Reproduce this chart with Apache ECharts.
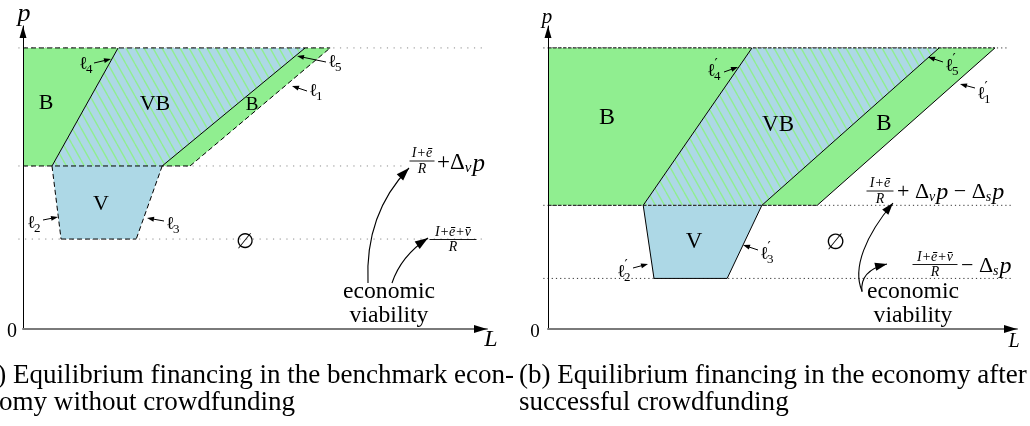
<!DOCTYPE html>
<html>
<head>
<meta charset="utf-8">
<script src="https://cdn.jsdelivr.net/npm/echarts@6/dist/echarts.min.js"></script>
<style>
  html, body { margin: 0; padding: 0; background: #fff; }
  #chart { width: 1030px; height: 426px; }
</style>
</head>
<body>
<div id="chart"></div>
<script>
// ---------------------------------------------------------------
// Region boundaries in (L, p) space.
// Each boundary line is given by its L value at the lower level
// (the V/B threshold) and at the upper bound of p.
// ---------------------------------------------------------------

// (a) benchmark economy without crowdfunding
const levelsA  = [1.0, 0.58, 0.32];   // p: upper bound, threshold, viability floor
const ell4A    = [0.625, 2.05];
const ell5A    = [3.0, 6.08];
const ell1A    = [3.6, 6.62];
const floorA   = [0.82, 2.44];        // where l2 and l3 meet the viability floor
const guideEndA = [10, 8.25, 10];     // right end of the dotted level lines

// (b) economy after successful crowdfunding
const levelsB  = [1.0, 0.44, 0.18];
const ell4B    = [2.03, 4.35];
const ell5B    = [4.56, 8.34];
const ell1B    = [5.74, 9.53];
const floorB   = [2.26, 3.82];
const guideEndB = [9.8, 9.9, 9.9];

const L_MAX = 10;
const P_MAX = 1.078;

// ---------------------------------------------------------------
const SERIF = '"Liberation Serif", "DejaVu Serif", serif';
const GREEN = '#90ee90';
const BLUE  = '#add8e6';

const mctx = document.createElement('canvas').getContext('2d');
function textW(s, size, italic, fam) {
  mctx.font = (italic ? 'italic ' : '') + size + 'px ' + (fam || SERIF);
  return mctx.measureText(s).width;
}

// light blue fill with green diagonal hatching for the VB region
function hatchPattern() {
  const w = 9, h = 16;
  const c = document.createElement('canvas');
  c.width = w; c.height = h;
  const g = c.getContext('2d');
  g.fillStyle = BLUE;
  g.fillRect(0, 0, w, h);
  g.strokeStyle = GREEN;
  g.lineWidth = 1.4;
  for (const off of [-w, 0, w]) {
    g.beginPath(); g.moveTo(off, 0); g.lineTo(off + w, h); g.stroke();
  }
  return { image: c, repeat: 'repeat' };
}
const HATCH = hatchPattern();

// build the polygons and edges of one panel from its boundary arrays
function panelShapes(lv, l4, l5, l1, fl, gEnd, edge) {
  const [top, mid, low] = lv;
  const fills = [
    { pts: [[0, mid], [l4[0], mid], [l4[1], top], [0, top]], fill: GREEN },
    { pts: [[l4[0], mid], [l5[0], mid], [l5[1], top], [l4[1], top]], fill: HATCH },
    { pts: [[l5[0], mid], [l1[0], mid], [l1[1], top], [l5[1], top]], fill: GREEN },
    { pts: [[l4[0], mid], [l5[0], mid], [fl[1], low], [fl[0], low]], fill: BLUE }
  ];
  const guides = lv.map((p, i) => ({ pts: [[-0.1, p], [gEnd[i], p]], style: edge.guide }));
  const edges = [
    { pts: [[0, top], [l1[1], top]], style: edge.level },
    { pts: [[0, mid], [l1[0], mid]], style: edge.level },
    { pts: [[l4[0], mid], [l4[1], top]], style: edge.l4 },
    { pts: [[l5[0], mid], [l5[1], top]], style: edge.l5 },
    { pts: [[l1[0], mid], [l1[1], top]], style: edge.l1 },
    { pts: [[l4[0], mid], [fl[0], low]], style: edge.v },
    { pts: [[l5[0], mid], [fl[1], low]], style: edge.v },
    { pts: [[fl[0], low], [fl[1], low]], style: edge.v }
  ];
  return { fills, guides, edges };
}

const solid  = { stroke: '#000', lineWidth: 1 };
const dashed = { stroke: '#000', lineWidth: 1, lineDash: [5, 3] };

const shapesA = panelShapes(levelsA, ell4A, ell5A, ell1A, floorA, guideEndA, {
  guide: { stroke: '#8a8a8a', lineWidth: 1, lineDash: [1.2, 5.5] },
  level: dashed, l4: solid, l5: solid, l1: dashed, v: dashed
});
const shapesB = panelShapes(levelsB, ell4B, ell5B, ell1B, floorB, guideEndB, {
  guide: { stroke: '#333', lineWidth: 1, lineDash: [1.2, 3] },
  level: { stroke: '#333', lineWidth: 1.3, lineDash: [3.5, 1.5] },
  l4: solid, l5: solid, l1: solid, v: solid
});

function polySeries(list, gi, z) {
  return {
    type: 'custom', xAxisIndex: gi, yAxisIndex: gi, z, silent: true, clip: false,
    data: list.map(s => s.pts[0]),
    encode: { x: 0, y: 1 },
    renderItem: (params, api) => {
      const s = list[params.dataIndex];
      return { type: 'polygon', shape: { points: s.pts.map(p => api.coord(p)) },
               style: { fill: s.fill, stroke: null } };
    }
  };
}
function lineSeries(list, gi, z) {
  return {
    type: 'custom', xAxisIndex: gi, yAxisIndex: gi, z, silent: true, clip: false,
    data: list.map(s => s.pts[0]),
    encode: { x: 0, y: 1 },
    renderItem: (params, api) => {
      const s = list[params.dataIndex];
      return { type: 'polyline', shape: { points: s.pts.map(p => api.coord(p)) },
               style: Object.assign({ fill: null }, s.style) };
    }
  };
}

// ---------------------------------------------------------------
// annotation helpers
function T(x, y, text, size, o) {
  o = o || {};
  const align = o.align || 'center', valign = o.valign || 'middle';
  return {
    type: 'text', x, y, z: 100, silent: true,
    style: {
      text, fontSize: size, fontFamily: o.fam || SERIF,
      fontStyle: o.italic ? 'italic' : 'normal', fill: '#000',
      textAlign: align, textVerticalAlign: valign, align, verticalAlign: valign
    }
  };
}
function head(tx, ty, ux, uy, len, wid) {
  const bx = tx - ux * len, by = ty - uy * len;
  return { type: 'polygon', z: 100, silent: true,
    shape: { points: [[tx, ty], [bx - uy * wid / 2, by + ux * wid / 2], [bx + uy * wid / 2, by - ux * wid / 2]] },
    style: { fill: '#000' } };
}
function arrow(x1, y1, x2, y2, len, wid) {
  const dx = x2 - x1, dy = y2 - y1, d = Math.hypot(dx, dy), ux = dx / d, uy = dy / d;
  return [
    { type: 'line', z: 100, silent: true,
      shape: { x1, y1, x2: x2 - ux * len * 0.8, y2: y2 - uy * len * 0.8 },
      style: { stroke: '#000', lineWidth: 1 } },
    head(x2, y2, ux, uy, len, wid)
  ];
}
function curvedArrow(p0, c1, c2, p1, len, wid) {
  const dx = p1[0] - c2[0], dy = p1[1] - c2[1], d = Math.hypot(dx, dy);
  return [
    { type: 'bezierCurve', z: 100, silent: true,
      shape: { x1: p0[0], y1: p0[1], cpx1: c1[0], cpy1: c1[1], cpx2: c2[0], cpy2: c2[1], x2: p1[0], y2: p1[1] },
      style: { stroke: '#000', lineWidth: 1.1, fill: null } },
    head(p1[0], p1[1], dx / d, dy / d, len, wid)
  ];
}
// ℓ with subscript (and optional prime)
function ell(x, y, sub, prime) {
  const fam = '"DejaVu Serif", serif';
  const w = textW('ℓ', 18, false, fam);
  const out = [T(x, y, 'ℓ', 18, { align: 'left', fam })];
  if (prime) out.push(T(x + w - 1, y - 6, '′', 14, { align: 'left', fam }));
  out.push(T(x + w - 1.5, y + 6, sub, 13, { align: 'left' }));
  return out;
}
// a row of math pieces laid out left to right
function mathRow(x, y, parts) {
  const out = [];
  let cx = x;
  for (const p of parts) {
    if (p.gap) { cx += p.gap; continue; }
    out.push(T(cx, y + (p.dy || 0), p.t, p.size, { align: 'left', italic: p.it }));
    cx += textW(p.t, p.size, p.it);
  }
  return out;
}
// a stacked fraction centred at cx, bar at y
function frac(cx, y, num, den, size, barW) {
  return [
    T(cx, y - 7.5, num, size, { italic: true }),
    { type: 'line', z: 100, silent: true,
      shape: { x1: cx - barW / 2, y1: y, x2: cx + barW / 2, y2: y },
      style: { stroke: '#000', lineWidth: 0.9 } },
    T(cx, y + 8, den, size, { italic: true })
  ];
}

const g = [];
// axis arrowheads
g.push(head(487, 329, 1, 0, 13, 8), head(1017, 329, 1, 0, 13, 8));
g.push(head(23, 26, 0, -1, 12, 7), head(548, 26, 0, -1, 12, 7));
// axis names and origin
g.push(T(24, 14, 'p', 26, { italic: true }), T(547, 17, 'p', 21, { italic: true }));
g.push(T(491, 340, 'L', 24, { italic: true }), T(1014, 342, 'L', 20, { italic: true }));
g.push(T(12, 332, '0', 20), T(535, 332, '0', 19));

// region names
g.push(T(46, 103, 'B', 22), T(155, 104, 'VB', 22), T(252, 105, 'B', 19), T(101, 204, 'V', 22));
g.push(T(245, 242, '∅', 21));
g.push(T(607, 118, 'B', 24), T(778, 125, 'VB', 23), T(884, 124, 'B', 23), T(694, 242, 'V', 23));
g.push(T(835, 243, '∅', 22));

// boundary names with pointers
g.push(...ell(79, 64, '4'), ...arrow(94, 63, 111, 59, 7, 5));
g.push(...ell(328, 62, '5'), ...arrow(326, 62, 297, 56, 7, 5));
g.push(...ell(309, 91, '1'), ...arrow(307, 91, 292, 86, 7, 5));
g.push(...ell(27, 223, '2'), ...arrow(43, 220, 58, 217, 7, 5));
g.push(...ell(166, 224, '3'), ...arrow(164, 221, 147, 218, 7, 5));

g.push(...ell(707, 71, '4', true), ...arrow(724, 72, 738, 67, 7, 5));
g.push(...ell(945, 66, '5', true), ...arrow(943, 62, 928, 57, 7, 5));
g.push(...ell(977, 94, '1', true), ...arrow(975, 88, 960, 84, 7, 5));
g.push(...ell(617, 272, '2', true), ...arrow(633, 268, 648, 264, 7, 5));
g.push(...ell(760, 254, '3', true), ...arrow(758, 250, 743, 245, 7, 5));

// level formulas, panel (a)
g.push(...frac(422, 161, 'I+ē', 'R', 14, 25));
g.push(...mathRow(437, 163, [
  { t: '+', size: 23 }, { t: 'Δ', size: 23 }, { t: 'v', size: 15, it: true, dy: 5 }, { gap: 1 },
  { t: 'p', size: 25, it: true, dy: 1 }
]));
g.push(...frac(453, 239.5, 'I+ē+v̄', 'R', 14, 47));

// level formulas, panel (b)
g.push(...frac(880, 191, 'I+ē', 'R', 14, 27));
g.push(...mathRow(897, 192, [
  { t: '+ ', size: 22 }, { t: 'Δ', size: 22 }, { t: 'v', size: 14, it: true, dy: 5 }, { gap: 1 },
  { t: 'p', size: 24, it: true, dy: 1 }, { t: ' − ', size: 22 },
  { t: 'Δ', size: 22 }, { t: 's', size: 14, it: true, dy: 5 }, { gap: 1 },
  { t: 'p', size: 24, it: true, dy: 1 }
]));
g.push(...frac(935, 264.5, 'I+ē+v̄', 'R', 14, 45));
g.push(...mathRow(961, 266, [
  { t: '− ', size: 22 }, { t: 'Δ', size: 22 }, { t: 's', size: 14, it: true, dy: 5 }, { gap: 1 },
  { t: 'p', size: 24, it: true, dy: 1 }
]));

// "economic viability" notes
const evSize = 100 * 92 / textW('economic', 100);
g.push(T(389, 292, 'economic', evSize), T(389, 316, 'viability', evSize));
g.push(T(913, 292, 'economic', evSize), T(913, 316, 'viability', evSize));
g.push(...curvedArrow([368, 283], [366, 240], [378, 200], [409, 168], 13, 9));
g.push(...curvedArrow([392, 283], [398, 265], [410, 250], [428, 238], 13, 9));
g.push(...curvedArrow([862, 291], [852, 268], [866, 235], [893, 203], 12, 8));
g.push(...curvedArrow([862, 292], [860, 276], [870, 268], [887, 264], 12, 8));

// captions
const capA1 = '(a) Equilibrium financing in the benchmark econ-';
const capA2 = 'omy without crowdfunding';
const capB1 = '(b) Equilibrium financing in the economy after';
const capB2 = 'successful crowdfunding';
const capSize = 100 * 508 / textW(capB1, 100);
g.push(T(514, 376, capA1, capSize, { align: 'right' }), T(-1, 403, capA2, capSize, { align: 'left' }));
g.push(T(519, 376, capB1, capSize, { align: 'left' }), T(519, 403, capB2, capSize, { align: 'left' }));

// ---------------------------------------------------------------
function xAx(i) {
  return { gridIndex: i, type: 'value', min: 0, max: L_MAX, z: 10,
    axisLine: { show: true, onZero: true, lineStyle: { color: '#7a7a7a', width: 2 } },
    axisTick: { show: false }, axisLabel: { show: false }, splitLine: { show: false } };
}
function yAx(i) {
  return { gridIndex: i, type: 'value', min: 0, max: P_MAX, z: 10,
    axisLine: { show: true, onZero: true, lineStyle: { color: '#000', width: 1 } },
    axisTick: { show: false }, axisLabel: { show: false }, splitLine: { show: false } };
}

const chart = echarts.init(document.getElementById('chart'));
chart.setOption({
  animation: false,
  backgroundColor: '#fff',
  grid: [
    { left: 23, top: 26, width: 464, height: 303 },
    { left: 548, top: 26, width: 469, height: 303 }
  ],
  xAxis: [xAx(0), xAx(1)],
  yAxis: [yAx(0), yAx(1)],
  series: [
    lineSeries(shapesA.guides, 0, 1),
    polySeries(shapesA.fills, 0, 2),
    lineSeries(shapesA.edges, 0, 3),
    lineSeries(shapesB.guides, 1, 1),
    polySeries(shapesB.fills, 1, 2),
    lineSeries(shapesB.edges, 1, 3)
  ],
  graphic: { elements: g }
});
</script>
</body>
</html>
